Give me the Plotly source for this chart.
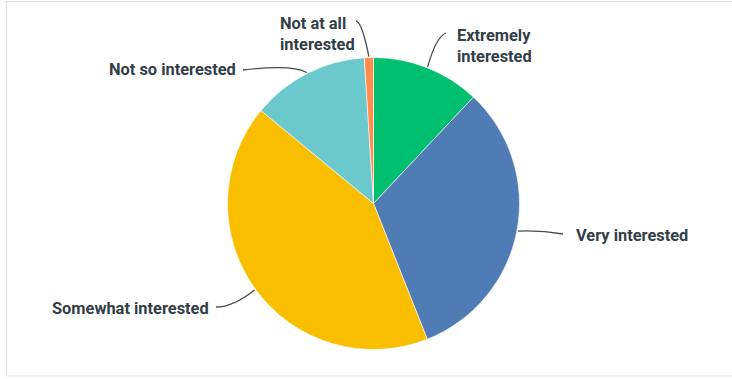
import math
import plotly.graph_objects as go

# Survey responses: "How interested are you ...?"
responses = [
    "Extremely interested",
    "Very interested",
    "Somewhat interested",
    "Not so interested",
    "Not at all interested",
]
shares = [12, 32, 42, 13, 1]
label_text = [
    "Extremely<br>interested",
    "Very interested",
    "Somewhat interested",
    "Not so interested",
    "Not at all<br>interested",
]
slice_colors = ["#00BF6F", "#507CB6", "#F9BE00", "#6BC8CD", "#FF8B4F"]

# Canvas and pie geometry (pixels)
W, H = 732, 379
CX, CY, R = 373.5, 203.5, 146

# Label layout: text block anchor (x, y, xanchor) and leader bend/end points, in pixels
label_layout = [
    dict(x=455, y=46, xanchor="left", ctrl=(436, 37), end=(446, 33)),
    dict(x=574, y=235, xanchor="left", ctrl=(540, 230), end=(563, 234)),
    dict(x=211, y=308, xanchor="right", ctrl=(233, 307), end=(216, 307)),
    dict(x=238, y=70, xanchor="right", ctrl=(292, 64), end=(243, 70)),
    dict(x=278, y=34, xanchor="left", ctrl=(362, 22), end=(356, 21)),
]


def px(x):
    return x / W


def py(y):
    return 1 - y / H


fig = go.Figure(
    go.Pie(
        labels=responses,
        values=shares,
        sort=False,
        direction="clockwise",
        rotation=0,
        textinfo="none",
        marker=dict(colors=slice_colors, line=dict(color="white", width=0.6)),
        showlegend=False,
        domain=dict(
            x=[px(CX - R), px(CX + R)],
            y=[py(CY + R), py(CY - R)],
        ),
    )
)

shapes = [
    # light frame around the chart area
    dict(
        type="rect", xref="paper", yref="paper",
        x0=px(6.5), x1=px(740), y0=py(376), y1=py(1.5),
        line=dict(color="#E3E3E3", width=1.2), fillcolor="rgba(0,0,0,0)",
        layer="below",
    )
]
annotations = []

total = sum(shares)
cum = 0.0
for val, text, lay in zip(shares, label_text, label_layout):
    mid = (cum + val / 2) / total * 2 * math.pi
    cum += val
    x0 = CX + (R + 1) * math.sin(mid)
    y0 = CY - (R + 1) * math.cos(mid)
    cx1, cy1 = lay["ctrl"]
    x2, y2 = lay["end"]
    shapes.append(
        dict(
            type="path", xref="paper", yref="paper",
            path=f"M {px(x0)},{py(y0)} Q {px(cx1)},{py(cy1)} {px(x2)},{py(y2)}",
            line=dict(color="#4A4A4A", width=1.3),
        )
    )
    annotations.append(
        dict(
            text=f"<b>{text}</b>",
            x=px(lay["x"]), y=py(lay["y"]),
            xref="paper", yref="paper",
            xanchor=lay["xanchor"], yanchor="middle",
            align="left",
            showarrow=False,
            font=dict(family="Roboto", size=16.4, color="#333E48"),
        )
    )

fig.update_layout(
    width=W,
    height=H,
    margin=dict(l=0, r=0, t=0, b=0),
    paper_bgcolor="white",
    plot_bgcolor="white",
    shapes=shapes,
    annotations=annotations,
)

fig.write_html("out.html")
